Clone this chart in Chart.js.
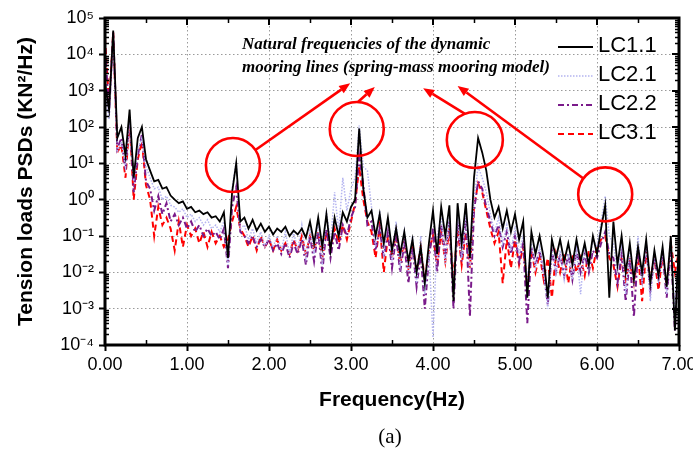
<!DOCTYPE html>
<html><head><meta charset="utf-8">
<script src="https://cdn.jsdelivr.net/npm/chart.js@4.4.1/dist/chart.umd.min.js"></script>
<style>html,body{margin:0;padding:0;background:#fff;}#wrap{width:693px;height:454px;}</style>
</head><body><div id="wrap"><canvas id="c" width="693" height="454"></canvas></div>
<script>
// ---------- data ----------
const seriesNames = ['LC1.1', 'LC2.1', 'LC2.2', 'LC3.1'];
const freqStepHz = 0.05;   // frequency resolution of the PSD (0.00 .. 7.00 Hz)

const lc11 = [
  1.6e3, 3e2, 4.5e4, 50, 100, 16, 300, 4, 50, 100,
  13, 6.3, 3.2, 3.5, 2, 2.2, 1.3, 1, 0.8, 0.9,
  0.56, 0.63, 0.45, 0.5, 0.4, 0.45, 0.32, 0.35, 0.25, 0.45,
  0.025, 1.6, 10, 0.25, 0.32, 0.16, 0.28, 0.14, 0.22, 0.13,
  0.18, 0.11, 0.16, 0.13, 0.18, 0.1, 0.14, 0.11, 0.16, 0.09,
  0.25, 0.063, 0.32, 0.05, 0.4, 0.04, 0.32, 0.1, 0.45, 0.25,
  0.63, 1, 90, 2, 0.32, 0.5, 0.1, 0.4, 0.063, 0.32,
  0.04, 0.16, 0.032, 0.13, 0.02, 0.08, 0.01, 0.05, 0.005, 0.063,
  0.5, 0.032, 0.63, 0.1, 0.7, 0.0016, 0.8, 0.063, 0.8, 0.025,
  4, 50, 20, 6.3, 1, 0.32, 0.63, 0.16, 0.5, 0.13,
  0.4, 0.08, 0.25, 0.002, 0.13, 0.032, 0.1, 0.025, 0.002, 0.08,
  0.025, 0.08, 0.02, 0.063, 0.016, 0.08, 0.02, 0.063, 0.016, 0.1,
  0.032, 0.16, 0.7, 0.002, 0.25, 0.016, 0.1, 0.01, 0.063, 0.0063,
  0.05, 0.01, 0.08, 0.005, 0.04, 0.008, 0.05, 0.004, 0.1, 0.00025,
  0.08
];
const lc21 = [
  1e3, 160, 3e4, 20, 40, 8, 160, 3.2, 25, 50,
  8, 4, 2, 2.2, 1, 1.26, 0.7, 0.63, 0.45, 0.56,
  0.32, 0.4, 0.25, 0.32, 0.2, 0.28, 0.16, 0.2, 0.13, 0.25,
  0.016, 2, 11, 0.16, 0.2, 0.08, 0.16, 0.063, 0.13, 0.05,
  0.1, 0.05, 0.1, 0.04, 0.13, 0.032, 0.13, 0.04, 0.2, 0.025,
  0.16, 0.032, 0.25, 0.016, 0.5, 0.063, 1.6, 0.13, 4, 0.5,
  2, 4, 110, 8, 6.3, 0.63, 0.05, 0.5, 0.032, 0.32,
  0.02, 0.25, 0.016, 0.13, 0.01, 0.1, 0.005, 0.1, 0.0025, 0.04,
  0.00016, 0.1, 0.32, 0.016, 0.4, 0.004, 0.32, 0.025, 0.4, 0.013,
  1, 8, 4, 1.6, 0.4, 0.13, 0.32, 0.063, 0.2, 0.04,
  0.16, 0.032, 0.1, 0.0063, 0.063, 0.013, 0.05, 0.01, 0.001, 0.04,
  0.01, 0.04, 0.0063, 0.032, 0.0063, 0.04, 0.0025, 0.05, 0.013, 0.08,
  0.05, 0.25, 1.26, 0.1, 0.063, 0.01, 0.063, 0.0025, 0.04, 0.004,
  0.1, 0.005, 0.063, 0.0016, 0.032, 0.0063, 0.04, 0.0025, 0.08, 0.001,
  0.05
];
const lc22 = [
  1.6e4, 250, 4e4, 25, 50, 6.3, 200, 1.6, 16, 63,
  3.2, 2, 0.5, 1.26, 0.4, 0.8, 0.25, 0.4, 0.2, 0.32,
  0.16, 0.25, 0.13, 0.2, 0.1, 0.16, 0.1, 0.13, 0.08, 0.16,
  0.013, 0.63, 2.2, 0.13, 0.1, 0.063, 0.1, 0.05, 0.08, 0.05,
  0.08, 0.04, 0.063, 0.032, 0.063, 0.025, 0.063, 0.032, 0.08, 0.016,
  0.1, 0.02, 0.13, 0.01, 0.16, 0.025, 0.13, 0.04, 0.2, 0.1,
  0.32, 0.63, 16, 2.5, 0.2, 0.25, 0.04, 0.16, 0.025, 0.13,
  0.013, 0.1, 0.01, 0.063, 0.005, 0.05, 0.004, 0.032, 0.001, 0.025,
  0.16, 0.01, 0.2, 0.032, 0.25, 0.001, 0.25, 0.02, 0.32, 0.0006,
  0.5, 3.2, 2, 0.63, 0.25, 0.1, 0.2, 0.05, 0.13, 0.032,
  0.1, 0.02, 0.063, 0.0004, 0.05, 0.016, 0.04, 0.01, 0.0013, 0.04,
  0.01, 0.032, 0.008, 0.032, 0.0063, 0.04, 0.01, 0.032, 0.01, 0.04,
  0.025, 0.063, 0.13, 0.032, 0.025, 0.005, 0.032, 0.0016, 0.025, 0.0006,
  0.04, 0.0063, 0.05, 0.0032, 0.025, 0.0063, 0.032, 0.002, 0.05, 0.00025,
  0.063
];
const lc31 = [
  2.8e4, 400, 4e4, 20, 32, 4, 160, 1, 13, 40,
  2.5, 1, 0.1, 0.63, 0.2, 0.32, 0.16, 0.04, 0.25, 0.05,
  0.2, 0.1, 0.16, 0.063, 0.13, 0.05, 0.13, 0.063, 0.1, 0.05,
  0.08, 0.25, 0.63, 0.16, 0.1, 0.05, 0.1, 0.04, 0.1, 0.05,
  0.08, 0.04, 0.08, 0.04, 0.063, 0.032, 0.08, 0.04, 0.1, 0.032,
  0.1, 0.04, 0.13, 0.025, 0.13, 0.05, 0.16, 0.063, 0.2, 0.08,
  0.25, 0.8, 8, 1, 0.25, 0.13, 0.025, 0.2, 0.01, 0.1,
  0.025, 0.13, 0.016, 0.08, 0.013, 0.063, 0.01, 0.05, 0.0063, 0.04,
  0.1, 0.016, 0.13, 0.02, 0.16, 0.0063, 0.16, 0.016, 0.13, 0.013,
  0.63, 2.8, 1.6, 0.5, 0.16, 0.063, 0.13, 0.005, 0.08, 0.013,
  0.08, 0.016, 0.05, 0.004, 0.04, 0.01, 0.032, 0.0063, 0.025, 0.002,
  0.032, 0.01, 0.032, 0.005, 0.032, 0.01, 0.025, 0.008, 0.04, 0.013,
  0.05, 0.08, 0.1, 0.025, 0.016, 0.004, 0.025, 0.0063, 0.02, 0.005,
  0.032, 0.0016, 0.04, 0.0063, 0.025, 0.0032, 0.032, 0.004, 0.063, 0.01,
  0.04
];

const xTickLabels = ['0.00', '1.00', '2.00', '3.00', '4.00', '5.00', '6.00', '7.00'];
const yTickValues = [1e-4, 1e-3, 1e-2, 1e-1, 1e0, 1e1, 1e2, 1e3, 1e4, 1e5];
const yTickLabels = ['10⁻⁴', '10⁻³', '10⁻²', '10⁻¹', '10⁰', '10¹', '10²', '10³', '10⁴', '10⁵'];
const noteLines = ['Natural frequencies of the dynamic', 'mooring lines (spring-mass mooring model)'];
const xTitle = 'Frequency(Hz)';
const yTitle = 'Tension loads PSDs (KN²/Hz)';
const panelLabel = '(a)';

// frequency axis (categories)
const freqHz = lc11.map((_, i) => +(i * freqStepHz).toFixed(2));

// ---------- annotation anchors (data coordinates) ----------
const circleSpots = [
  { f: 1.56, v: 9, r: 27 },
  { f: 3.07, v: 88, r: 27 },
  { f: 4.51, v: 44, r: 28 },
  { f: 6.10, v: 1.4, r: 27 }
];
const arrowSpots = [
  { f0: 1.83, v0: 23, f1: 2.99, v1: 1600 },
  { f0: 3.085, v0: 490, f1: 3.29, v1: 1260 },
  { f0: 4.39, v0: 230, f1: 3.88, v1: 1170 },
  { f0: 5.83, v0: 3.9, f1: 4.30, v1: 1350 }
];
const noteAnchor = { f: 1.67, v: 1.8e4 };

const SANS = '"Liberation Sans", Arial, sans-serif';
const SERIF = '"Liberation Serif", "Times New Roman", serif';

const styles = [
  { color: '#000000', width: 1.8, dash: [] },
  { color: '#b4b4f0', width: 1.5, dash: [1.5, 1.5] },
  { color: '#7a1a8a', width: 2, dash: [6, 3, 2, 3] },
  { color: '#ff0000', width: 2, dash: [6, 4] }
];
const seriesValues = [lc11, lc21, lc22, lc31];

const datasets = seriesNames.map((name, k) => ({
  label: name,
  data: seriesValues[k],
  borderColor: styles[k].color,
  borderWidth: styles[k].width,
  borderDash: styles[k].dash,
  pointRadius: 0,
  tension: 0,
  fill: false
}));

const gridColor = (ctx) => {
  const v = ctx.tick ? ctx.tick.value : null;
  if (v === 0 || v === 7 || v === 1e-4 || v === 1e5) return 'rgba(0,0,0,0)';
  return '#9a9a9a';
};

const decor = {
  id: 'decor',
  afterDatasetsDraw(chart) {
    const { ctx, scales: { x, y } } = chart;
    ctx.save();
    // circles and arrows
    ctx.strokeStyle = '#ff0000';
    ctx.fillStyle = '#ff0000';
    ctx.lineWidth = 2.6;
    circleSpots.forEach(c => {
      ctx.beginPath();
      ctx.arc(x.getPixelForValue(c.f), y.getPixelForValue(c.v), c.r, 0, Math.PI * 2);
      ctx.stroke();
    });
    arrowSpots.forEach(a => {
      const x0 = x.getPixelForValue(a.f0), y0 = y.getPixelForValue(a.v0);
      const x1 = x.getPixelForValue(a.f1), y1 = y.getPixelForValue(a.v1);
      const ang = Math.atan2(y1 - y0, x1 - x0);
      const hl = 11, hw = 4.5;
      const bx = x1 - hl * Math.cos(ang), by = y1 - hl * Math.sin(ang);
      ctx.beginPath(); ctx.moveTo(x0, y0); ctx.lineTo(bx, by); ctx.stroke();
      ctx.beginPath();
      ctx.moveTo(x1, y1);
      ctx.lineTo(bx + hw * Math.sin(ang), by - hw * Math.cos(ang));
      ctx.lineTo(bx - hw * Math.sin(ang), by + hw * Math.cos(ang));
      ctx.closePath(); ctx.fill();
    });
    // note text
    ctx.fillStyle = '#000';
    ctx.font = 'italic bold 17px ' + SERIF;
    ctx.textAlign = 'left';
    ctx.textBaseline = 'middle';
    const tx = x.getPixelForValue(noteAnchor.f), ty = y.getPixelForValue(noteAnchor.v);
    noteLines.forEach((t, i) => ctx.fillText(t, tx, ty + i * 23));
    // legend
    const ca = chart.chartArea;
    chart.data.datasets.forEach((ds, i) => {
      const ly = ca.top + 28 + i * 29;
      ctx.beginPath();
      ctx.strokeStyle = ds.borderColor;
      ctx.lineWidth = ds.borderWidth;
      ctx.setLineDash(ds.borderDash);
      ctx.moveTo(ca.right - 121, ly + 1);
      ctx.lineTo(ca.right - 86, ly + 1);
      ctx.stroke();
      ctx.setLineDash([]);
      ctx.fillStyle = '#000';
      ctx.font = '22px ' + SANS;
      ctx.textAlign = 'left';
      ctx.textBaseline = 'middle';
      ctx.fillText(ds.label, ca.right - 81, ly);
    });
    ctx.restore();
  },
  afterDraw(chart) {
    const { ctx, chartArea: ca, scales: { x, y } } = chart;
    ctx.save();
    ctx.strokeStyle = '#000';
    // minor ticks
    ctx.lineWidth = 1.5;
    ctx.beginPath();
    for (let d = -4; d < 5; d++) {
      for (let m = 2; m <= 9; m++) {
        const py = Math.round(y.getPixelForValue(m * Math.pow(10, d))) + 0.5;
        ctx.moveTo(ca.left, py); ctx.lineTo(ca.left + 4, py);
        ctx.moveTo(ca.right, py); ctx.lineTo(ca.right - 4, py);
      }
    }
    for (let h = 0.5; h < 7; h += 1) {
      const px = Math.round(x.getPixelForValue(h)) + 0.5;
      ctx.moveTo(px, ca.bottom); ctx.lineTo(px, ca.bottom - 5);
      ctx.moveTo(px, ca.top); ctx.lineTo(px, ca.top + 5);
    }
    ctx.stroke();
    // major ticks on right and top (inside)
    ctx.lineWidth = 2;
    ctx.beginPath();
    yTickValues.forEach(v => {
      const py = Math.round(y.getPixelForValue(v));
      ctx.moveTo(ca.right, py); ctx.lineTo(ca.right - 7, py);
    });
    for (let h = 1; h < 7; h++) {
      const px = Math.round(x.getPixelForValue(h));
      ctx.moveTo(px, ca.top); ctx.lineTo(px, ca.top + 7);
    }
    ctx.stroke();
    // frame
    ctx.lineWidth = 3;
    ctx.strokeRect(ca.left, ca.top, ca.right - ca.left, ca.bottom - ca.top);
    // panel label
    ctx.fillStyle = '#000';
    ctx.font = '21px ' + SERIF;
    ctx.textAlign = 'center';
    ctx.textBaseline = 'middle';
    ctx.fillText(panelLabel, (ca.left + ca.right) / 2 - 2, 437);
    ctx.restore();
  }
};

new Chart(document.getElementById('c'), {
  type: 'line',
  data: { labels: freqHz, datasets },
  plugins: [decor],
  options: {
    responsive: false,
    devicePixelRatio: 1,
    animation: false,
    layout: { autoPadding: false, padding: { left: 0, top: 18, right: 14, bottom: 0 } },
    plugins: { legend: { display: false }, tooltip: { enabled: false } },
    scales: {
      x: {
        type: 'linear', min: 0, max: 7,
        ticks: {
          stepSize: 1, color: '#000', font: { family: SANS, size: 18 }, padding: 3,
          maxRotation: 0, autoSkip: false,
          callback: (v) => xTickLabels[Math.round(v)]
        },
        grid: { color: gridColor, lineWidth: 1, tickColor: '#000', tickLength: 6, tickWidth: 2 },
        border: { display: false, dash: [1.5, 2.5] },
        title: { display: true, text: xTitle, color: '#000', font: { family: SANS, size: 21, weight: 'bold' }, padding: { top: 0, bottom: 41 } },
        afterFit: (s) => { s.height = 109; s.paddingLeft = 0; s.paddingRight = 0; }
      },
      y: {
        type: 'logarithmic', min: 1e-4, max: 1e5,
        afterBuildTicks: (s) => { s.ticks = yTickValues.map(v => ({ value: v })); },
        ticks: {
          color: '#000', font: { family: SANS, size: 18 }, padding: 5, autoSkip: false,
          callback: (v) => yTickLabels[yTickValues.indexOf(v)]
        },
        grid: { color: gridColor, lineWidth: 1, tickColor: '#000', tickLength: 6, tickWidth: 2 },
        border: { display: false, dash: [1.5, 2.5] },
        title: { display: true, text: yTitle, color: '#000', font: { family: SANS, size: 21, weight: 'bold' }, padding: { top: 14, bottom: 0 } },
        afterFit: (s) => { s.width = 105; s.paddingTop = 0; s.paddingBottom = 0; }
      }
    }
  }
});
</script></body></html>
